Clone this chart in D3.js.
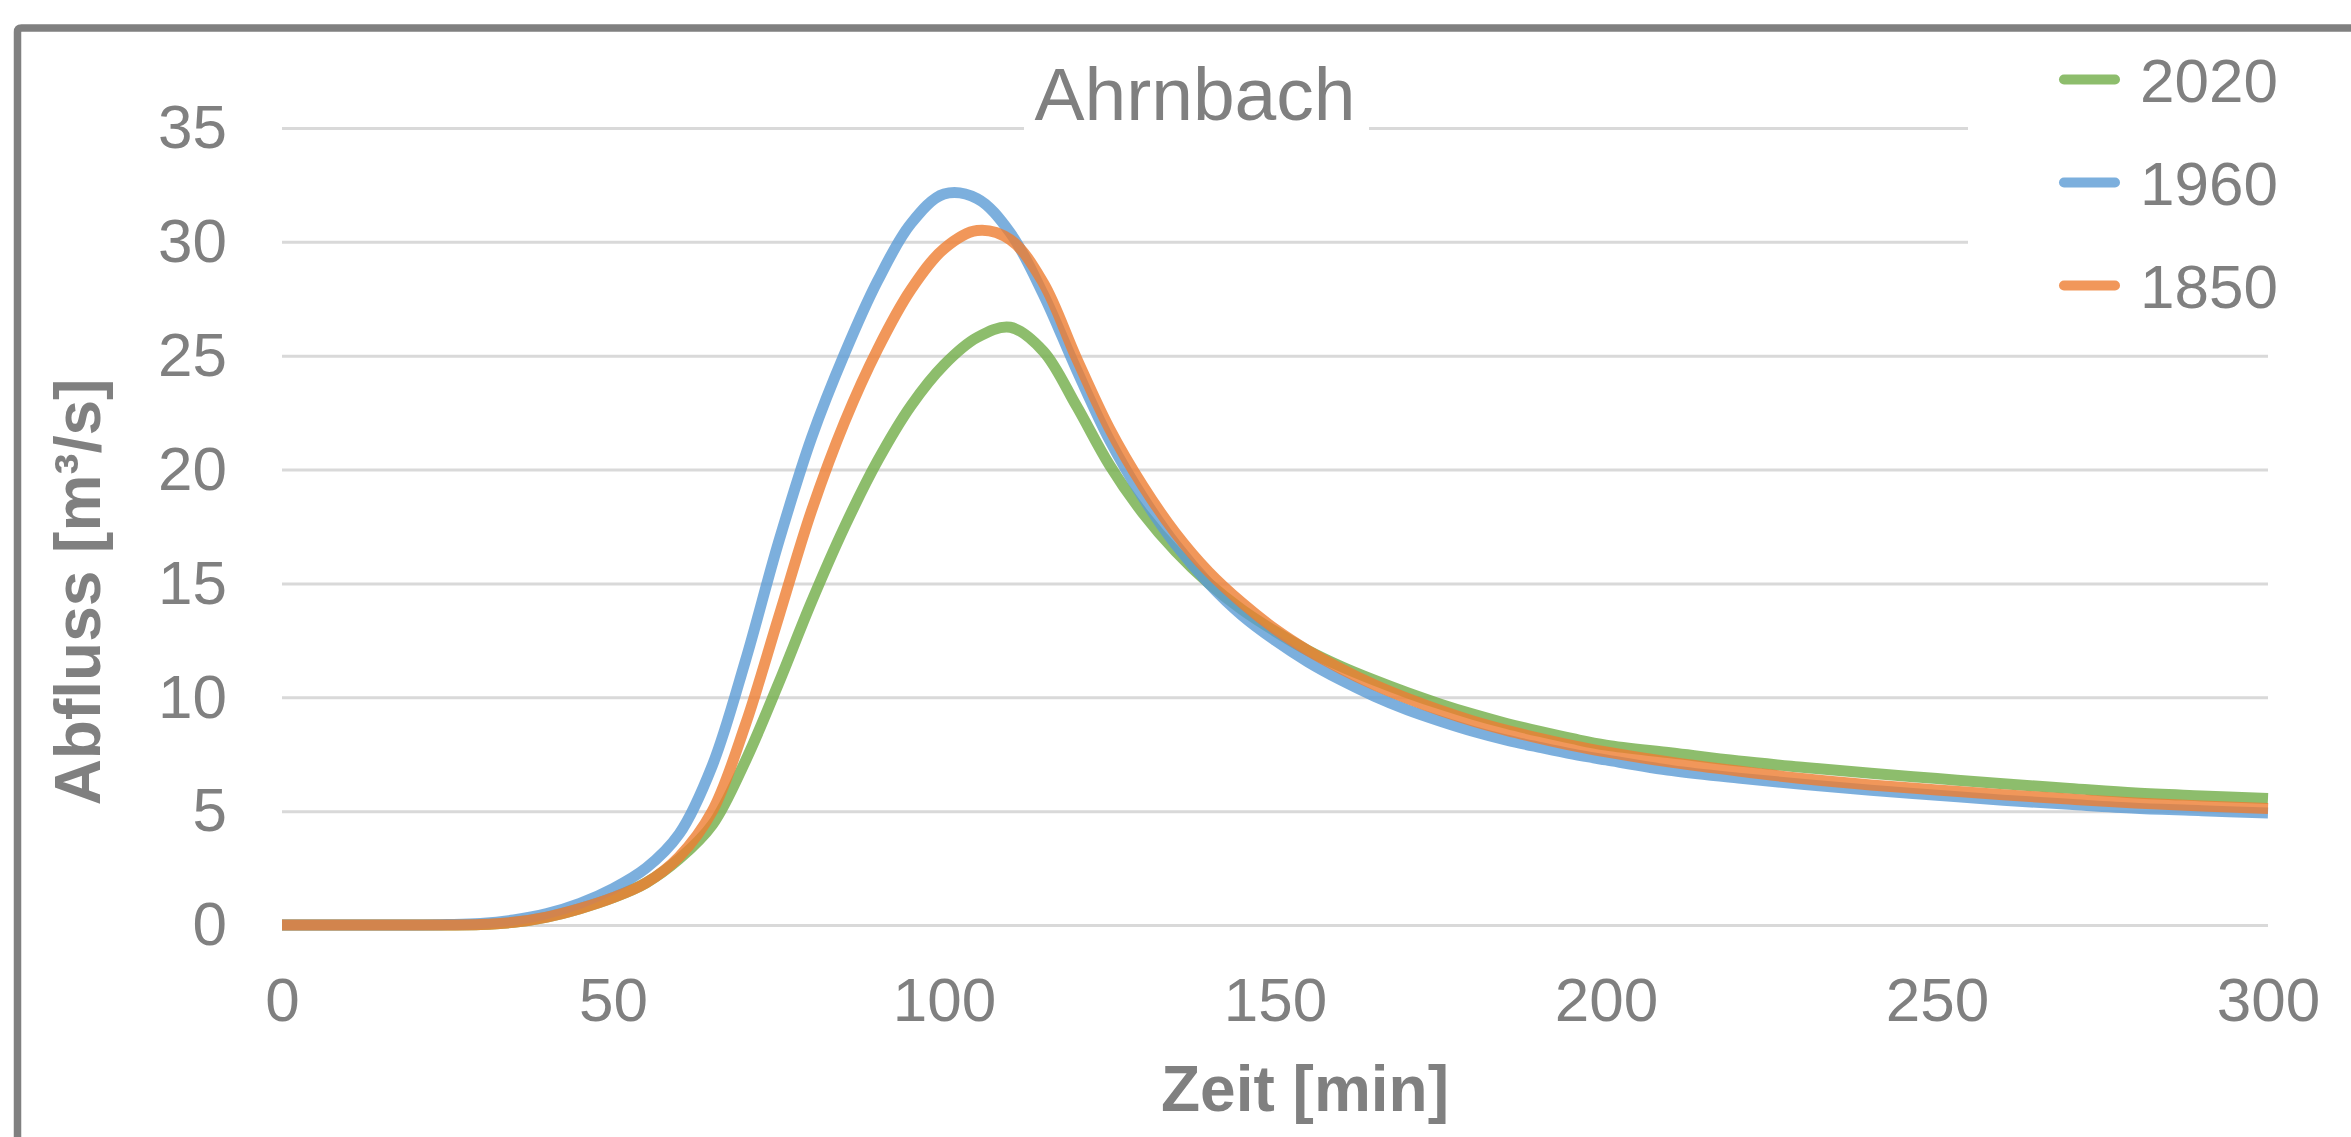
<!DOCTYPE html>
<html>
<head>
<meta charset="utf-8">
<script src="https://cdn.jsdelivr.net/npm/d3@7"></script>
<style>
    body { margin: 0; background: #ffffff; }
    svg { display: block; font-family: "Liberation Sans", Arial, sans-serif; }
</style>
</head>
<body>
<svg></svg>
<script>
// Zeit [min]
let times = [0, 5, 10, 15, 20, 25, 30, 35, 40, 45, 50, 55, 60, 65, 70, 75, 80, 85, 90, 95,
    100, 105, 110, 115, 120, 125, 130, 135, 140, 145, 150, 155, 160, 165, 170, 175, 180, 185, 190, 195,
    200, 210, 220, 230, 240, 250, 260, 270, 280, 290, 300]

let q2020 = [0, 0, 0, 0, 0, 0, 0.02, 0.12, 0.35, 0.72, 1.2, 1.85, 2.9, 4.4, 7.2, 10.6, 14.2, 17.5, 20.4, 22.8,
    24.6, 25.8, 26.25, 25.2, 22.8, 20.2, 18.1, 16.4, 15.0, 13.85, 12.9, 12.05, 11.35, 10.75, 10.2, 9.7, 9.25, 8.85, 8.5, 8.18,
    7.9, 7.55, 7.2, 6.92, 6.66, 6.43, 6.2, 6.0, 5.8, 5.67, 5.55]

let q1960 = [0, 0, 0, 0, 0, 0.02, 0.07, 0.22, 0.5, 0.95, 1.6, 2.5, 4.0, 7.0, 11.6, 16.8, 21.4, 25.1, 28.3, 30.8,
    32.1, 31.9, 30.4, 27.7, 24.4, 21.3, 18.8, 16.7, 15.0, 13.6, 12.5, 11.55, 10.75, 10.05, 9.45, 8.95, 8.5, 8.12, 7.8, 7.5,
    7.25, 6.78, 6.45, 6.17, 5.92, 5.7, 5.48, 5.3, 5.13, 5.02, 4.92]

let q1850 = [0, 0, 0, 0, 0, 0, 0.02, 0.12, 0.35, 0.72, 1.2, 1.85, 3.0, 5.0, 8.8, 13.5, 18.2, 22.1, 25.3, 27.9,
    29.7, 30.5, 30.1, 28.2, 24.9, 21.8, 19.3, 17.2, 15.5, 14.15, 13.0, 12.05, 11.25, 10.55, 9.95, 9.42, 8.95, 8.55, 8.2, 7.88,
    7.6, 7.14, 6.76, 6.42, 6.15, 5.93, 5.72, 5.53, 5.36, 5.23, 5.12]

let seriesNames = ["2020", "1960", "1850"]
let seriesColors = ["#70AD47", "#5B9BD5", "#ED7D31"]
let seriesValues = [q2020, q1960, q1850]

let xTicks = [0, 50, 100, 150, 200, 250, 300]
let yTicks = [0, 5, 10, 15, 20, 25, 30, 35]

let chartTitle = "Ahrnbach"
let xTitle = "Zeit [min]"
let yTitle = "Abfluss [m³/s]"

let width = 2351
let height = 1137
let plotLeft = 282
let plotRight = 2268
let plotTop = 128
let plotBottom = 925

let textColor = "#808080"

let svg = d3.select("svg")
    .attr("width", width)
    .attr("height", height)

let xScale = d3.scaleLinear().domain([0, 300]).range([plotLeft, plotRight])
let yScale = d3.scaleLinear().domain([0, 35]).range([plotBottom, plotTop])

// frame (only top and left edges are in the picture)
svg.append("path")
    .attr("d", "M17.5," + (height + 10) + " L17.5,32 Q17.5,28 21.5,28 L" + (width + 10) + ",28")
    .attr("fill", "none")
    .attr("stroke", "#808080")
    .attr("stroke-width", 7.5)

// y axis + gridlines
let yAxis = d3.axisLeft(yScale)
    .tickValues(yTicks)
    .tickSizeInner(-(plotRight - plotLeft))
    .tickSizeOuter(0)
    .tickPadding(55)

let gy = svg.append("g")
    .attr("transform", "translate(" + plotLeft + ",0)")
    .call(yAxis)
gy.select(".domain").remove()
gy.selectAll("line").attr("stroke", "#d9d9d9").attr("stroke-width", 3)
gy.selectAll("text")
    .attr("fill", textColor)
    .attr("font-size", 62)
    .attr("font-family", "Liberation Sans, Arial, sans-serif")

// x axis
let xAxis = d3.axisBottom(xScale)
    .tickValues(xTicks)
    .tickSize(0)
    .tickPadding(52)

let gx = svg.append("g")
    .attr("transform", "translate(0," + plotBottom + ")")
    .call(xAxis)
gx.select(".domain").remove()
gx.selectAll("text")
    .attr("fill", textColor)
    .attr("font-size", 62)
    .attr("font-family", "Liberation Sans, Arial, sans-serif")

// white boxes behind title and legend
svg.append("rect")
    .attr("x", 1024).attr("y", 45)
    .attr("width", 345).attr("height", 100)
    .attr("fill", "#ffffff")

svg.append("rect")
    .attr("x", 1968).attr("y", 40)
    .attr("width", 380).attr("height", 290)
    .attr("fill", "#ffffff")

// lines
let line = d3.line()
    .x((d, i) => xScale(times[i]))
    .y(d => yScale(d))
    .curve(d3.curveCatmullRom.alpha(0.5))

svg.selectAll(".series")
    .data(seriesValues)
    .enter()
    .append("path")
    .attr("class", "series")
    .attr("d", d => line(d))
    .attr("fill", "none")
    .attr("stroke", (d, i) => seriesColors[i])
    .attr("stroke-opacity", 0.8)
    .attr("stroke-width", 11)
    .attr("stroke-linejoin", "round")

// title
svg.append("text")
    .attr("x", 1195)
    .attr("y", 120)
    .attr("text-anchor", "middle")
    .attr("font-size", 75)
    .attr("fill", textColor)
    .text(chartTitle)

// axis titles
svg.append("text")
    .attr("x", 1305)
    .attr("y", 1111)
    .attr("text-anchor", "middle")
    .attr("font-size", 64)
    .attr("font-weight", "bold")
    .attr("fill", textColor)
    .text(xTitle)

svg.append("text")
    .attr("transform", "translate(100,592) rotate(-90)")
    .attr("text-anchor", "middle")
    .attr("font-size", 64)
    .attr("font-weight", "bold")
    .attr("fill", textColor)
    .text(yTitle)

// legend
let legendY = d3.scaleBand().domain(seriesNames).range([28, 337])

let legend = svg.selectAll(".legend")
    .data(seriesNames)
    .enter()
    .append("g")
    .attr("class", "legend")
    .attr("transform", d => "translate(0," + (legendY(d) + legendY.bandwidth() / 2) + ")")

legend.append("line")
    .attr("x1", 2064).attr("x2", 2115)
    .attr("y1", 0).attr("y2", 0)
    .attr("stroke", (d, i) => seriesColors[i])
    .attr("stroke-opacity", 0.8)
    .attr("stroke-width", 10)
    .attr("stroke-linecap", "round")

legend.append("text")
    .attr("x", 2140)
    .attr("y", 22)
    .attr("font-size", 62)
    .attr("fill", textColor)
    .text(d => d)
</script>
</body>
</html>
